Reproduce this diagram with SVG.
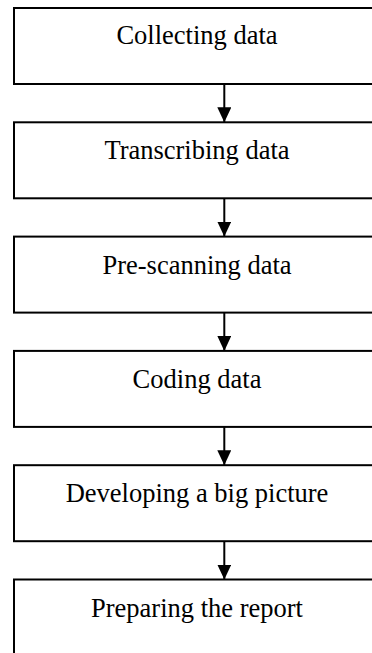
<svg xmlns="http://www.w3.org/2000/svg" width="372" height="653" viewBox="0 0 372 653">
  <style>
    .box { fill: #ffffff; stroke: #000000; stroke-width: 2; }
    .label { font-family: "Liberation Serif", "Times New Roman", serif; font-size: 26.5px; fill: #000000; text-anchor: middle; }
    .link { stroke: #000000; stroke-width: 2; fill: none; }
  </style>
  <defs>
    <marker id="arrowhead" markerUnits="userSpaceOnUse" markerWidth="15" markerHeight="14" refX="15" refY="7" orient="auto">
      <path d="M0,0 L15,7 L0,14 Z" fill="#000000"/>
    </marker>
  </defs>
  <rect x="0" y="0" width="372" height="653" fill="#ffffff"/>

  <g id="node-collecting">
    <rect class="box" x="14" y="8" width="420" height="76"/>
    <text class="label" x="197" y="44">Collecting data</text>
  </g>
  <g id="node-transcribing">
    <rect class="box" x="14" y="122.3" width="420" height="76"/>
    <text class="label" x="197" y="159.3">Transcribing data</text>
  </g>
  <g id="node-prescanning">
    <rect class="box" x="14" y="236.6" width="420" height="76"/>
    <text class="label" x="197" y="273.6">Pre-scanning data</text>
  </g>
  <g id="node-coding">
    <rect class="box" x="14" y="350.9" width="420" height="76"/>
    <text class="label" x="197" y="387.9">Coding data</text>
  </g>
  <g id="node-big-picture">
    <rect class="box" x="14" y="465.2" width="420" height="76"/>
    <text class="label" x="197" y="502.2">Developing a big picture</text>
  </g>
  <g id="node-report">
    <rect class="box" x="14" y="579.5" width="420" height="100"/>
    <text class="label" x="197" y="616.5">Preparing the report</text>
  </g>

  <g id="connectors">
    <line class="link" x1="224.3" y1="84" x2="224.3" y2="122.3" marker-end="url(#arrowhead)"/>
    <line class="link" x1="224.3" y1="198.3" x2="224.3" y2="236.6" marker-end="url(#arrowhead)"/>
    <line class="link" x1="224.3" y1="312.6" x2="224.3" y2="350.9" marker-end="url(#arrowhead)"/>
    <line class="link" x1="224.3" y1="426.9" x2="224.3" y2="465.2" marker-end="url(#arrowhead)"/>
    <line class="link" x1="224.3" y1="541.2" x2="224.3" y2="579.5" marker-end="url(#arrowhead)"/>
  </g>
</svg>
